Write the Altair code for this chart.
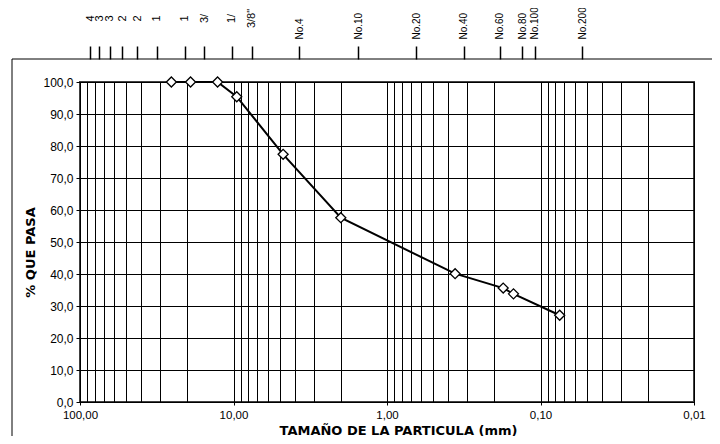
import altair as alt
import pandas as pd

# Grain-size data
sizes_mm = [25.4, 19.05, 12.7, 9.525, 4.75, 2.0, 0.36, 0.175, 0.15, 0.075]
pct_pass = [100.0, 100.0, 100.0, 95.4, 77.4, 57.6, 40.1, 35.6, 33.8, 27.1]

# Sieve marks shown along the top (inch sieves, then numbered sieves)
inch_mm = [101.6, 88.9, 76.2, 63.5, 50.8, 38.1, 25.4, 19.05, 12.7, 9.525]
inch_lbl = ['4', '3', '3', '2', '2', '1', '1', '3/', '1/', '3/8"']
no_mm = [4.75, 2.0, 0.85, 0.425, 0.25, 0.18, 0.15, 0.075]
no_lbl = ['No.4', 'No.10', 'No.20', 'No.40', 'No.60', 'No.80', 'No.100', 'No.200']

x_major = [100, 10, 1, 0.1, 0.01]
x_grid = sorted({round(m * 10 ** k, 6) for k in range(-2, 2) for m in range(1, 10)} | set(x_major))
y_ticks = [0, 10, 20, 30, 40, 50, 60, 70, 80, 90, 100]

FONT = "Liberation Sans"
TFONT = "DejaVu Sans"

df = pd.DataFrame({"d": sizes_mm, "p": pct_pass})

major_test = "abs(log(datum.value)/LN10 - round(log(datum.value)/LN10)) < 0.01"

x_enc = alt.X(
    "d:Q",
    scale=alt.Scale(type="log", domain=[0.01, 100], reverse=True, nice=False),
    axis=alt.Axis(
        values=x_grid,
        labelExpr=f"{major_test} ? replace(format(datum.value, '.2f'), '.', ',') : ''",
        grid=True, gridColor="black", gridWidth=1,
        tickSize=3, tickColor="black",
        tickOpacity={"condition": {"test": major_test, "value": 1}, "value": 0},
        domainColor="black",
        labelPadding=4, labelFontSize=11.5, labelOverlap=False, labelFlush=False,
        title="TAMAÑO DE LA PARTICULA (mm)", titleFont=TFONT, titleFontSize=13,
        titleFontWeight="bold", titleX=318, titleY=32, titleBaseline="alphabetic",
    ),
)
y_enc = alt.Y(
    "p:Q",
    scale=alt.Scale(domain=[0, 100], nice=False),
    axis=alt.Axis(
        values=y_ticks,
        labelExpr="replace(format(datum.value, '.1f'), '.', ',')",
        grid=True, gridColor="black", gridWidth=1,
        tickSize=4, tickColor="black", domainColor="black",
        labelFontSize=12, labelPadding=3,
        title="% QUE PASA", titleFont=TFONT, titleFontSize=13, titleFontWeight="bold",
        titlePadding=5, titleY=170,
    ),
)

line = alt.Chart(df).mark_line(color="black", strokeWidth=2).encode(x=x_enc, y=y_enc)
pts = alt.Chart(df).mark_point(
    shape="diamond", size=100, filled=True, fill="white", stroke="black",
    strokeWidth=1.3, opacity=1
).encode(x=x_enc, y=y_enc)
inner = alt.layer(line, pts)


def lbl_expr(vals, names):
    e = "''"
    for d, name in reversed(list(zip(vals, names))):
        e = f"datum.value == {d} ? '{name}' : ({e})"
    return e


def sieve_layer(vals, names, align, padding, size):
    return alt.Chart(pd.DataFrame({"d": vals})).mark_point(opacity=0).encode(
        x=alt.X(
            "d:Q",
            scale=alt.Scale(type="log", domain=[117.7, 0.01453], nice=False),
            axis=alt.Axis(
                orient="top", values=vals, labelExpr=lbl_expr(vals, names),
                offset=23, tickSize=13, tickWidth=1.5, tickColor="black",
                domain=False, grid=False, labelAngle=270, labelAlign=align,
                labelBaseline="middle", labelPadding=padding, labelFontSize=size,
                labelOverlap=False, labelFlush=False, title=None,
            ),
        ),
        y=alt.value(0),
    )


top_in = sieve_layer(inch_mm, inch_lbl, "center", 28, 11)
top_no = sieve_layer(no_mm, no_lbl, "left", 7, 10)

frame = alt.Chart(pd.DataFrame({"k": [0]})).mark_rect(
    fill="transparent", stroke="black", strokeWidth=1, clip=False
).encode(x=alt.value(-68), x2=alt.value(760), y=alt.value(-23), y2=alt.value(460))

chart = alt.layer(frame, inner, top_in, top_no).resolve_scale(x="independent").properties(
    width=614, height=320,
    autosize=alt.AutoSizeParams(type="none"),
    padding={"left": 72, "top": 74, "right": 18, "bottom": 34},
    background="white",
).configure_view(
    stroke="#404040", strokeWidth=2
).configure_axis(
    labelFont=FONT, titleFont=FONT, labelColor="black", titleColor="black"
)

chart.save("out.html", embed_options={"renderer": "svg", "actions": False})
